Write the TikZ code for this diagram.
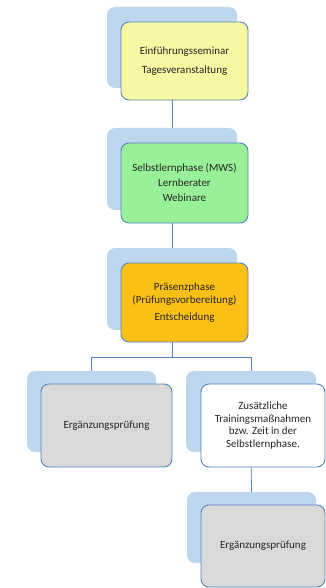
\documentclass[tikz,border=0pt]{standalone}
\usepackage{fontspec}
\setmainfont{Carlito}
\definecolor{backblue}{RGB}{189,214,238}
\definecolor{frontline}{RGB}{84,130,190}
\definecolor{boxyellow}{RGB}{248,248,162}
\definecolor{boxgreen}{RGB}{152,240,152}
\definecolor{boxorange}{RGB}{250,192,22}
\definecolor{boxgray}{RGB}{217,217,217}
\definecolor{txt}{RGB}{38,38,38}
\pgfdeclarelayer{bg}
\pgfsetlayers{bg,main}
\begin{document}
\begin{tikzpicture}[x=1pt,y=-1pt,
  back/.style={fill=backblue, rounded corners=8pt, inner sep=0pt},
  front/.style={draw=frontline, line width=0.9pt, rounded corners=8pt, inner sep=0pt,
    align=center, text=txt},
  conn/.style={draw=frontline, line width=0.8pt}]
\useasboundingbox (0,0) rectangle (326,588);
% back boxes
\node[back, minimum width=130pt, minimum height=81pt] (bk1) at (172,47.5) {};
\node[back, minimum width=130pt, minimum height=82pt] (bk2) at (172,169) {};
\node[back, minimum width=130pt, minimum height=82pt] (bk3) at (172,289) {};
\node[back, minimum width=129pt, minimum height=81pt] (bkl) at (91.5,411.5) {};
\node[back, minimum width=130pt, minimum height=81pt] (bkr) at (251,411.5) {};
\node[back, minimum width=129pt, minimum height=71pt] (bkb) at (251.5,527.5) {};
% front boxes
\node[front, fill=boxyellow, minimum width=127pt, minimum height=78pt,
  font=\fontsize{11}{19}\selectfont] (f1) at (184.5,61)
  {Einführungsseminar\\Tagesveranstaltung};
\node[front, fill=boxgreen, minimum width=127pt, minimum height=80pt,
  font=\fontsize{11}{15}\selectfont] (f2) at (184.5,183)
  {Selbstlernphase (MWS)\\Lernberater\\Webinare};
\node[front, fill=boxorange, minimum width=127pt, minimum height=79pt,
  font=\fontsize{11}{13}\selectfont] (f3) at (184.5,302.5)
  {Präsenzphase\\(Prüfungsvorbereitung)\\[4pt]Entscheidung};
\node[front, fill=boxgray, minimum width=131pt, minimum height=83pt,
  font=\fontsize{11}{13}\selectfont] (fl) at (106.5,425.5)
  {Ergänzungsprüfung};
\node[front, fill=white, minimum width=124pt, minimum height=83pt,
  font=\fontsize{11}{12.5}\selectfont] (fr) at (263,425.5)
  {Zusätzliche\\Trainingsmaßnahmen\\bzw. Zeit in der\\Selbstlernphase.};
\node[front, fill=boxgray, minimum width=124pt, minimum height=82pt,
  font=\fontsize{11}{13}\selectfont] (fb) at (263,546)
  {Ergänzungsprüfung};
% connectors
\begin{pgfonlayer}{bg}
\draw[conn] (bk1.south) -- (bk2.north);
\draw[conn] (bk2.south) -- (bk3.north);
\coordinate (split) at (172,357);
\draw[conn] (bk3.south) -- (split);
\draw[conn] (split) -| (bkl.north);
\draw[conn] (split) -| (bkr.north);
\draw[conn] (bkr.south) -- (bkb.north);
\end{pgfonlayer}
\end{tikzpicture}
\end{document}
